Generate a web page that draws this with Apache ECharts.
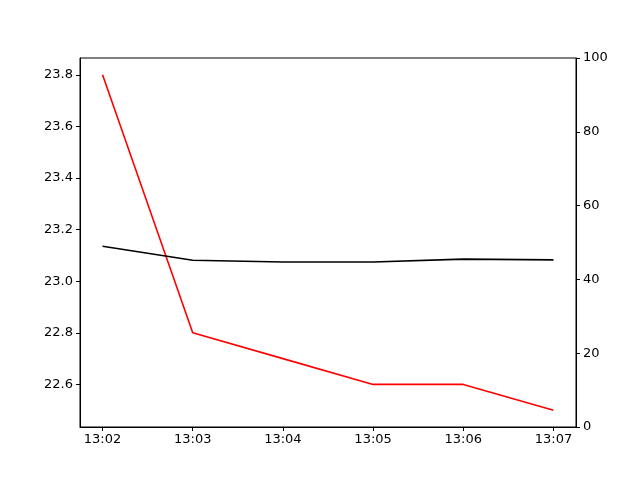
<!DOCTYPE html>
<html>
<head>
<meta charset="utf-8">
<script src="https://cdn.jsdelivr.net/npm/echarts@6/dist/echarts.min.js"></script>
<style>
  html, body { margin: 0; padding: 0; background: #fff; }
  #chart { width: 640px; height: 480px; }
</style>
</head>
<body>
<div id="chart"></div>
<script>
// time labels along the x axis
var times = ['13:02', '13:03', '13:04', '13:05', '13:06', '13:07'];
// red line, left axis
var tempValues = [23.8, 22.8, 22.7, 22.6, 22.6, 22.5];
// black line, right axis
var humValues = [49.0, 45.2, 44.7, 44.7, 45.5, 45.3];
var leftTicks = [22.6, 22.8, 23.0, 23.2, 23.4, 23.6, 23.8];
var rightTicks = [0, 20, 40, 60, 80, 100];

var chart = echarts.init(document.getElementById('chart'));

var font = { color: '#000', fontSize: 13, fontFamily: 'DejaVu Sans' };
var axLine = { show: true, onZero: false, lineStyle: { color: '#000', width: 1 } };
var axTick = { show: true, inside: false, length: 4, lineStyle: { color: '#000', width: 1 } };

var option = {
	animation: false,
	grid: {
		left: 80, right: 64, top: 58, bottom: 53,
		show: true, borderColor: '#000', borderWidth: 1, backgroundColor: '#fff'
	},
	xAxis: {
		type: 'value',
		min: -0.25,
		max: 5.25,
		splitLine: { show: false },
		axisLine: axLine,
		axisTick: Object.assign({}, axTick, { customValues: [0, 1, 2, 3, 4, 5] }),
		axisLabel: Object.assign({}, font, {
			margin: 6,
			customValues: [0, 1, 2, 3, 4, 5],
			formatter: function (v) { return times[Math.round(v)]; }
		})
	},
	yAxis: [
		{
			type: 'value',
			position: 'left',
			min: 22.435,
			max: 23.865,
			splitLine: { show: false },
			axisLine: axLine,
			axisTick: Object.assign({}, axTick, { customValues: leftTicks }),
			axisLabel: Object.assign({}, font, {
				margin: 7,
				customValues: leftTicks,
				formatter: function (v) { return v.toFixed(1); }
			})
		},
		{
			type: 'value',
			position: 'right',
			min: 0,
			max: 100,
			interval: 20,
			splitLine: { show: false },
			axisLine: axLine,
			axisTick: Object.assign({}, axTick, { customValues: rightTicks }),
			axisLabel: Object.assign({}, font, { margin: 7, customValues: rightTicks })
		}
	],
	series: [
		{
			type: 'line',
			yAxisIndex: 0,
			data: tempValues.map(function (v, i) { return [i, v]; }),
			showSymbol: false,
			lineStyle: { color: '#ff0000', width: 1.6 },
			itemStyle: { color: '#ff0000' }
		},
		{
			type: 'line',
			yAxisIndex: 1,
			data: humValues.map(function (v, i) { return [i, v]; }),
			showSymbol: false,
			lineStyle: { color: '#000', width: 1.6 },
			itemStyle: { color: '#000' }
		}
	]
};

chart.setOption(option);
</script>
</body>
</html>
